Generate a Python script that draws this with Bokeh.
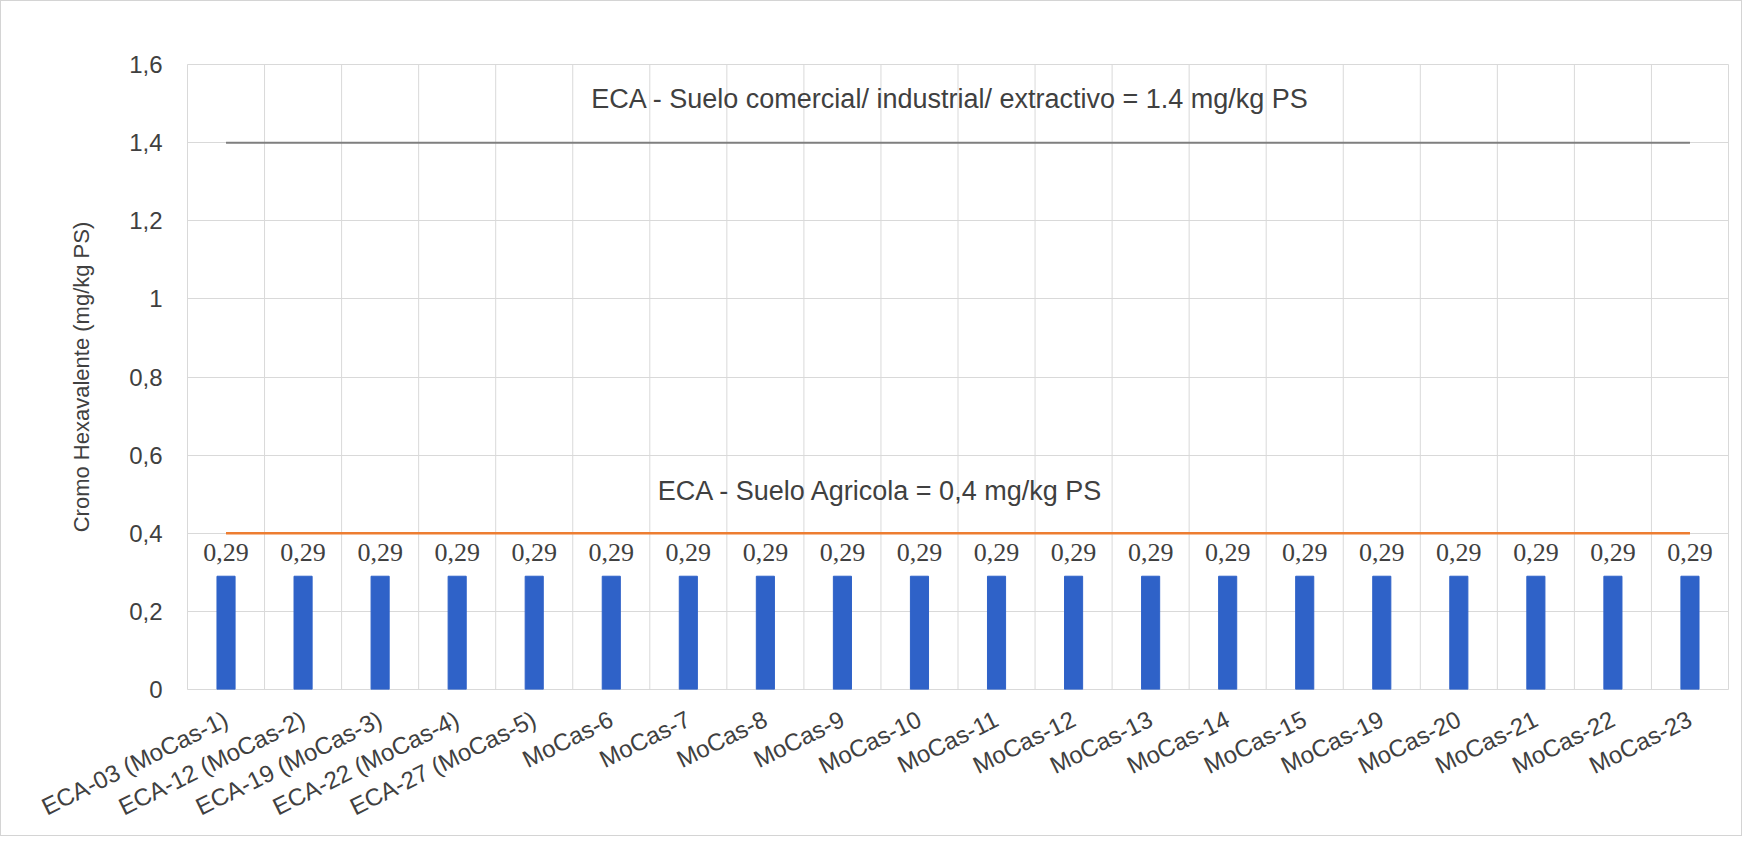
from bokeh.plotting import figure
from bokeh.models import (ColumnDataSource, FactorRange, Range1d, FixedTicker,
                          CustomJSTickFormatter, Label)
from bokeh.transform import dodge
from bokeh.embed import file_html
from bokeh.resources import INLINE

# ---------------- data ----------------
categories = ["ECA-03 (MoCas-1)", "ECA-12 (MoCas-2)", "ECA-19 (MoCas-3)",
              "ECA-22 (MoCas-4)", "ECA-27 (MoCas-5)", "MoCas-6", "MoCas-7",
              "MoCas-8", "MoCas-9", "MoCas-10", "MoCas-11", "MoCas-12",
              "MoCas-13", "MoCas-14", "MoCas-15", "MoCas-19", "MoCas-20",
              "MoCas-21", "MoCas-22", "MoCas-23"]
cromo_vi = [0.29, 0.29, 0.29, 0.29, 0.29, 0.29, 0.29, 0.29, 0.29, 0.29,
            0.29, 0.29, 0.29, 0.29, 0.29, 0.29, 0.29, 0.29, 0.29, 0.29]
eca_industrial = [1.4, 1.4, 1.4, 1.4, 1.4, 1.4, 1.4, 1.4, 1.4, 1.4,
                  1.4, 1.4, 1.4, 1.4, 1.4, 1.4, 1.4, 1.4, 1.4, 1.4]
eca_agricola = [0.4, 0.4, 0.4, 0.4, 0.4, 0.4, 0.4, 0.4, 0.4, 0.4,
                0.4, 0.4, 0.4, 0.4, 0.4, 0.4, 0.4, 0.4, 0.4, 0.4]
y_ticks = [0, 0.2, 0.4, 0.6, 0.8, 1, 1.2, 1.4, 1.6]
label_industrial = "ECA - Suelo comercial/ industrial/ extractivo = 1.4 mg/kg PS"
label_agricola = "ECA - Suelo Agricola = 0,4 mg/kg PS"
y_title = "Cromo Hexavalente (mg/kg PS)"

FONT = "Liberation Sans"
TXT = "#404040"
GRID = "#d9d9d9"

src = ColumnDataSource(dict(
    cat=categories,
    val=cromo_vi,
    txt=[("%.2f" % v).replace(".", ",") for v in cromo_vi],
    ind=eca_industrial,
    agr=eca_agricola,
    y0=[y_ticks[0]] * len(categories),
    y1=[y_ticks[-1]] * len(categories),
))

p = figure(width=1742, height=836,
           x_range=FactorRange(*categories, range_padding=0),
           y_range=Range1d(y_ticks[0], y_ticks[-1]),
           output_backend="svg", toolbar_location=None,
           min_border_left=186, min_border_right=15,
           min_border_top=63, min_border_bottom=148)
p.styles = {"border": "1px solid #d4d4d4", "box-sizing": "border-box"}
p.background_fill_color = "white"
p.border_fill_color = "white"
p.outline_line_color = GRID

# vertical gridlines at category boundaries
p.segment(x0=dodge("cat", -0.5, range=p.x_range), y0="y0",
          x1=dodge("cat", -0.5, range=p.x_range), y1="y1",
          source=src, line_color=GRID, line_width=1)

p.xgrid.visible = False
p.ygrid.ticker = FixedTicker(ticks=y_ticks)
p.ygrid.grid_line_color = GRID

# bars
p.vbar(x="cat", top="val", width=0.235, source=src,
       fill_color="#2F62C8", line_color="#2F62C8")

# reference lines
p.line(x="cat", y="ind", source=src, line_color="#7f7f7f", line_width=2)
p.line(x="cat", y="agr", source=src, line_color="#ED7D31", line_width=2.5)

# data labels
p.text(x="cat", y="val", text="txt", source=src, y_offset=-24,
       text_align="center", text_baseline="middle",
       text_font=FONT, text_font_size="26px", text_color=TXT)

# annotations
p.add_layout(Label(x=9.9, y=1.512, text=label_industrial, text_align="center",
                   text_baseline="middle", text_font=FONT, text_font_size="27px",
                   text_color=TXT))
p.add_layout(Label(x=9.0, y=0.508, text=label_agricola, text_align="center",
                   text_baseline="middle", text_font=FONT, text_font_size="27px",
                   text_color=TXT))

# axes
p.yaxis.ticker = FixedTicker(ticks=y_ticks)
p.yaxis.formatter = CustomJSTickFormatter(
    code="return (Math.round(tick*10)/10).toString().replace('.', ',');")
p.yaxis.axis_label = y_title
p.yaxis.axis_label_text_font = FONT
p.yaxis.axis_label_text_font_size = "22px"
p.yaxis.axis_label_text_font_style = "normal"
p.yaxis.axis_label_text_color = TXT
p.yaxis.axis_label_standoff = 32
for ax in (p.xaxis, p.yaxis):
    ax.axis_line_color = None
    ax.major_tick_line_color = None
    ax.minor_tick_line_color = None
    ax.major_tick_out = 0
    ax.major_label_text_font = FONT
    ax.major_label_text_color = TXT
p.yaxis.major_label_text_font_size = "24px"
p.xaxis.major_label_text_font_size = "24px"
p.yaxis.major_label_standoff = 25
p.xaxis.major_label_standoff = 28
p.xaxis.major_label_orientation = 0.46

open("out.html", "w").write(file_html(p, INLINE))
